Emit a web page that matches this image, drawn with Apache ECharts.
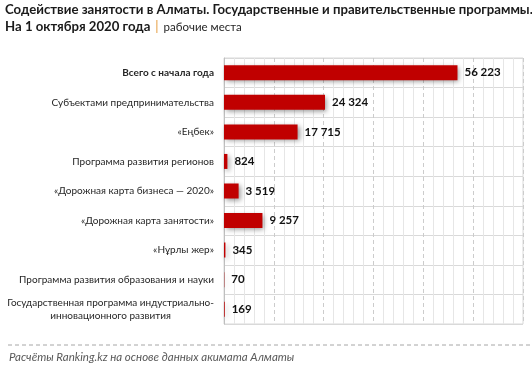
<!DOCTYPE html>
<html><head><meta charset="utf-8">
<script src="https://cdn.jsdelivr.net/npm/echarts@6/dist/echarts.min.js"></script>
<style>html,body{margin:0;padding:0;background:#fff}#c{width:532px;height:374px}</style>
</head><body><div id="c"></div>
<script>
const categories = [
  "Всего с начала года",
  "Субъектами предпринимательства",
  "«Еңбек»",
  "Программа развития регионов",
  "«Дорожная карта бизнеса — 2020»",
  "«Дорожная карта занятости»",
  "«Нұрлы жер»",
  "Программа развития образования и науки",
  "Государственная программа индустриально-\nинновационного развития"
];
const values = [56223, 24324, 17715, 824, 3519, 9257, 345, 70, 169];
const titleLine1 = "Содействие занятости в Алматы. Государственные и правительственные программы.";
const titleLine2 = "На 1 октября 2020 года";
const unitText = "рабочие места";
const sourceText = "Расчёты Ranking.kz на основе данных акимата Алматы";

const FONT = "Lato";
const fmt = v => String(v).replace(/\B(?=(\d{3})+(?!\d))/g, " ");

const chart = echarts.init(document.getElementById('c'), null, {renderer: 'canvas'});
chart.setOption({
  backgroundColor: '#fff',
  animation: false,
  title: {
    left: 5, top: 1, padding: 0,
    text: '{b|' + titleLine1 + '}\n{b|' + titleLine2 + '} {o||} {n|' + unitText + '}',
    textStyle: {
      fontWeight: 'normal',
      rich: {
        b: {fontFamily: FONT, fontWeight: 'bold', fontSize: 13.2, color: '#1a1a1a', lineHeight: 17},
        o: {fontFamily: FONT, fontWeight: 'normal', fontSize: 13, color: '#e59b3c', lineHeight: 17},
        n: {fontFamily: FONT, fontWeight: 'normal', fontSize: 11.5, color: '#262626', lineHeight: 17}
      }
    }
  },
  grid: {left: 224, right: 9, top: 58, bottom: 50, show: true, borderColor: '#d9d9d9', borderWidth: 1,
    containLabel: false, outerBoundsMode: 'none'},
  xAxis: {
    type: 'value', min: 0, max: 72000, interval: 12000,
    axisLabel: {show: false}, axisTick: {show: false}, axisLine: {show: false},
    splitLine: {show: true, lineStyle: {color: '#cccccc', type: [4, 3], width: 1}},
    minorTick: {show: false, splitNumber: 5},
    minorSplitLine: {show: true, lineStyle: {color: '#e6e6e6', width: 1}}
  },
  yAxis: {
    type: 'category', inverse: true,
    data: categories.map((c, i) => ({
      value: c,
      textStyle: i === 0 ? {fontWeight: 'bold', fontSize: 12, color: '#111'} : {}
    })),
    axisLine: {show: true, lineStyle: {color: '#bfbfbf'}},
    axisTick: {show: false},
    splitLine: {show: true, lineStyle: {color: '#d9d9d9', width: 1}},
    axisLabel: {
      margin: 10, fontFamily: FONT, fontSize: 10, color: '#262626',
      formatter: v => v.split('\n').map(s => '{c|' + s + '}').join('\n'),
      rich: {c: {align: 'center', fontFamily: FONT, fontSize: 10, color: '#262626', lineHeight: 13}}
    }
  },
  series: [{
    type: 'bar', data: values, barWidth: 15,
    itemStyle: {color: '#c00000', shadowColor: 'rgba(0,0,0,0.4)', shadowBlur: 5, shadowOffsetX: 2, shadowOffsetY: 2},
    label: {show: true, position: 'right', distance: 7, fontFamily: FONT, fontWeight: 'bold', fontSize: 11.5, color: '#111',
      formatter: p => fmt(p.value)}
  }],
  graphic: [
    {type: 'line', shape: {x1: 8, y1: 345, x2: 530, y2: 345}, style: {stroke: '#a6a6a6', lineDash: [4, 3], lineWidth: 1}},
    {type: 'text', left: 9, top: 351, style: {text: sourceText, fontFamily: FONT, fontStyle: 'italic', fontSize: 11.5, fill: '#595959'}}
  ]
});
</script></body></html>
